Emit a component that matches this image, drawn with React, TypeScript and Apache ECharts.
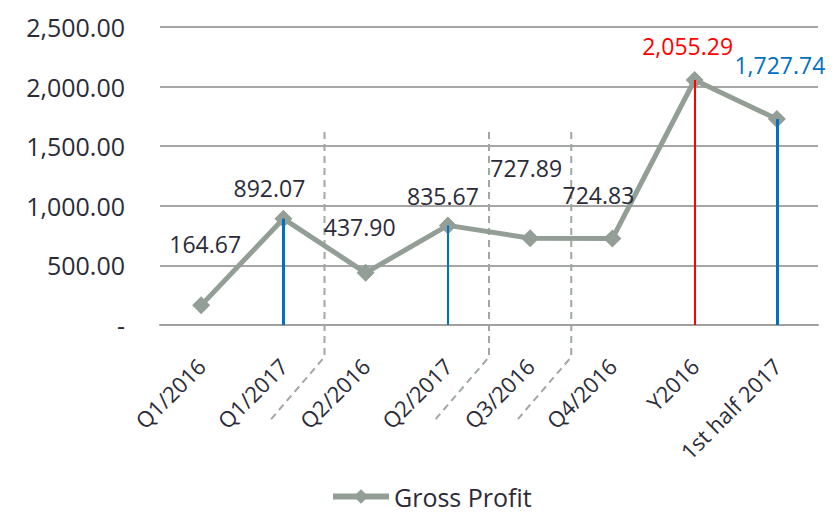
import React, { useEffect, useRef } from "react";
import * as echarts from "echarts";

const categories = ["Q1/2016", "Q1/2017", "Q2/2016", "Q2/2017", "Q3/2016", "Q4/2016", "Y2016", "1st half 2017"];
const grossProfit = [164.67, 892.07, 437.9, 835.67, 727.89, 724.83, 2055.29, 1727.74];
const yMin = 0;
const yMax = 2500;
const yInterval = 500;
const seriesName = "Gross Profit";
// drop lines from these categories down to zero
const dropCategories = ["Q1/2017", "Q2/2017", "Y2016", "1st half 2017"];
// dashed separators sit between these category pairs
const separatorPairs = [[1, 2], [3, 4], [4, 5]];
const separatorTopValue = 1620;

// styles (not data)
const FONT = "'Open Sans', 'Noto Sans', sans-serif";
const TEXT = "#2b2b38";
const LINE_COLOR = "#939f96";
const labelStyles: any[] = [
  { offset: [4, -36], color: TEXT },
  { offset: [-14, -5], color: TEXT },
  { offset: [-6, -20], color: TEXT },
  { offset: [-5, -4], color: TEXT },
  { offset: [-4, -45], color: TEXT },
  { offset: [-14, -18], color: TEXT },
  { offset: [-7, -9], color: "#ff0000" },
  { offset: [3, -29], color: "#0070c0" },
];
const dropStyles: any[] = [
  { color: "#0070c0", width: 3 },
  { color: "#0070c0", width: 2 },
  { color: "#ff0000", width: 2 },
  { color: "#0070c0", width: 3 },
];

const fmt = (v: number) =>
  v.toLocaleString("en-US", { minimumFractionDigits: 2, maximumFractionDigits: 2 });

export default function App() {
  const ref = useRef<HTMLDivElement>(null);
  useEffect(() => {
    if (!ref.current) return;
    const chart = echarts.init(ref.current, null, { renderer: "svg" });
    const option: any = {
      animation: false,
      textStyle: { fontFamily: FONT },
      grid: { left: 160, right: 18, top: 27, bottom: 187, containLabel: false },
      legend: {
        data: [seriesName],
        left: 330,
        top: 484,
        itemWidth: 56,
        itemHeight: 18,
        itemGap: 4,
        padding: 0,
        lineStyle: { width: 6 },
        textStyle: { fontSize: 25, lineHeight: 25, color: TEXT, fontFamily: FONT, padding: [0, 0, 0, 0] },
      },
      xAxis: {
        type: "category",
        data: categories,
        boundaryGap: true,
        axisTick: { show: false },
        axisLine: { lineStyle: { color: "#a0a0a0", width: 2 } },
        axisLabel: { rotate: 45, fontSize: 22, color: TEXT, margin: 37, fontFamily: FONT, interval: 0 },
      },
      yAxis: {
        type: "value",
        min: yMin,
        max: yMax,
        interval: yInterval,
        axisLine: { show: false },
        axisTick: { show: false },
        splitLine: { lineStyle: { color: "#a6a6a6", width: 2 } },
        axisLabel: {
          fontSize: 25,
          color: TEXT,
          margin: 35,
          fontFamily: FONT,
          formatter: (v: number) => (v === 0 ? "-" : fmt(v)),
        },
      },
      series: [
        {
          type: "line",
          name: "drops",
          data: [],
          z: 1,
          silent: true,
          markLine: {
            symbol: "none",
            silent: true,
            label: { show: false },
            emphasis: { disabled: true },
            data: dropCategories.map((c, i) => [
              { coord: [c, grossProfit[categories.indexOf(c)]], lineStyle: { color: dropStyles[i].color, width: dropStyles[i].width, type: "solid" } },
              { coord: [c, 0] },
            ]),
          },
        },
        {
          type: "line",
          name: seriesName,
          z: 3,
          data: grossProfit.map((v, i) => ({
            value: v,
            label: {
              show: true,
              position: "top",
              distance: 5,
              offset: labelStyles[i].offset,
              color: labelStyles[i].color,
            },
          })),
          symbol: "diamond",
          symbolSize: 18,
          itemStyle: { color: LINE_COLOR },
          lineStyle: { color: LINE_COLOR, width: 5 },
          label: {
            show: true,
            fontSize: 23,
            fontFamily: FONT,
            formatter: (p: any) => fmt(p.value),
          },
        },
      ],
    };
    chart.setOption(option);

    const axisY = chart.convertToPixel({ yAxisIndex: 0 }, 0) as number;
    const topY = chart.convertToPixel({ yAxisIndex: 0 }, separatorTopValue) as number;
    const elements = separatorPairs.map(([a, b]) => {
      const xa = chart.convertToPixel({ xAxisIndex: 0 }, a) as number;
      const xb = chart.convertToPixel({ xAxisIndex: 0 }, b) as number;
      const x = (xa + xb) / 2;
      const bend = axisY + 32;
      return {
        type: "polyline",
        silent: true,
        shape: { points: [[x, topY], [x, bend], [x - 55, bend + 64]] },
        style: { stroke: "#9fa9a1", lineWidth: 2, lineDash: [7, 5], fill: null },
        z: 0,
      };
    });
    chart.setOption({ graphic: { elements } });

    return () => chart.dispose();
  }, []);
  return <div ref={ref} style={{ width: 836, height: 512, position: "absolute", left: 0, top: 0 }} />;
}
